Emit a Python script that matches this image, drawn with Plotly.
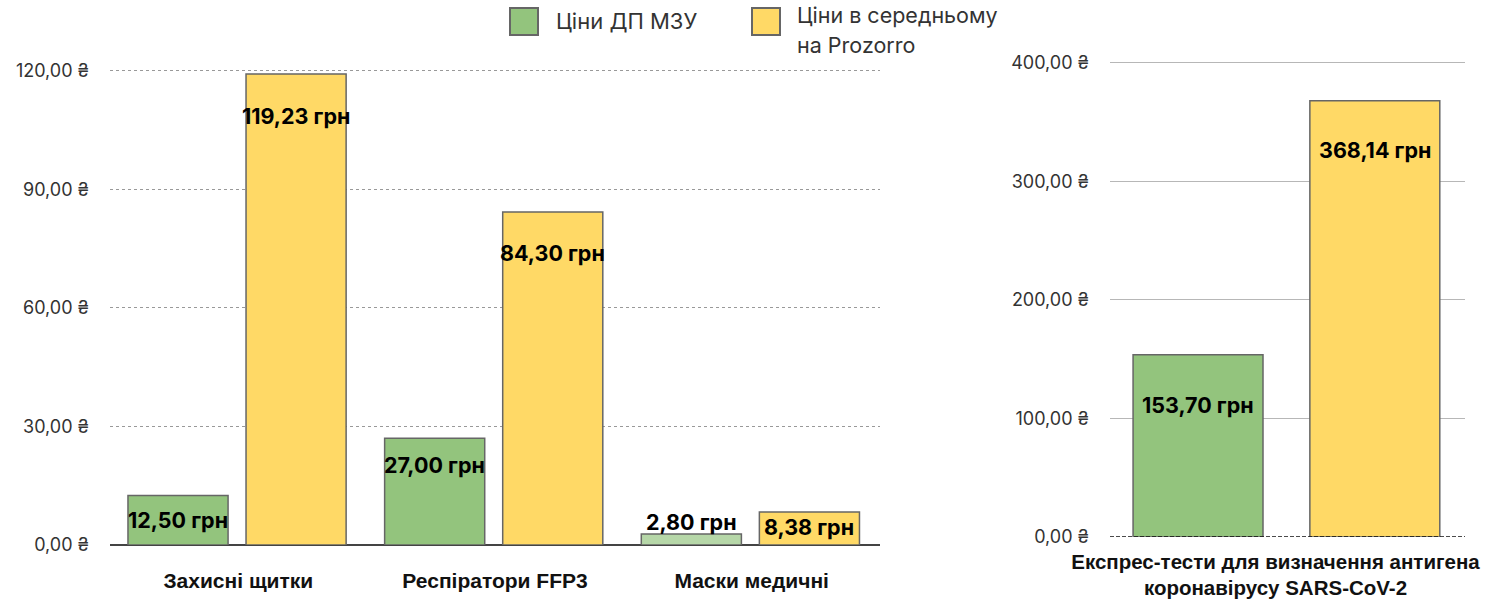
import plotly.graph_objects as go

# ---- data ----
left_categories = ["Захисні щитки", "Респіратори FFP3", "Маски медичні"]
mzu_prices = [12.50, 27.00, 2.80]
prozorro_prices = [119.23, 84.30, 8.38]

right_categories = ["Експрес-тести для визначення антигена<br>коронавірусу SARS-CoV-2"]
mzu_tests = [153.70]
prozorro_tests = [368.14]

left_tickvals = [0, 30, 60, 90, 120]
left_ticktext = ["0,00 ₴", "30,00 ₴", "60,00 ₴", "90,00 ₴", "120,00 ₴"]
right_tickvals = [0, 100, 200, 300, 400]
right_ticktext = ["0,00 ₴", "100,00 ₴", "200,00 ₴", "300,00 ₴", "400,00 ₴"]

legend_names = ["Ціни ДП МЗУ", "Ціни в середньому<br>на Prozorro"]

# ---- styles ----
GREEN = "#93c47d"
LIGHT_GREEN = "#b6d7a8"
YELLOW = "#ffd966"
BORDER = "#666666"
mzu_colors = [GREEN, GREEN, LIGHT_GREEN]
left_label_shift = {"mzu": [-24, -27, 12], "pz": [-42, -41, -15]}
right_label_shift = {"mzu": [-50], "pz": [-49]}

W, H = 1493, 605
def fx(px): return px / W
def fy(py): return 1 - py / H

L_W, L_G_OFF, L_Y_OFF = 0.39, -0.43, 0.03
R_W, R_G_OFF, R_Y_OFF = 0.366, -0.435, 0.063

fig = go.Figure()
line = dict(color=BORDER, width=1.5)

fig.add_trace(go.Bar(x=left_categories, y=mzu_prices, marker=dict(color=mzu_colors, line=line),
                     width=L_W, offset=L_G_OFF, xaxis="x", yaxis="y", showlegend=False, hoverinfo="skip"))
fig.add_trace(go.Bar(x=left_categories, y=prozorro_prices, marker=dict(color=YELLOW, line=line),
                     width=L_W, offset=L_Y_OFF, xaxis="x", yaxis="y", showlegend=False, hoverinfo="skip"))
fig.add_trace(go.Bar(x=right_categories, y=mzu_tests, marker=dict(color=GREEN, line=line),
                     width=R_W, offset=R_G_OFF, xaxis="x2", yaxis="y2", showlegend=False, hoverinfo="skip"))
fig.add_trace(go.Bar(x=right_categories, y=prozorro_tests, marker=dict(color=YELLOW, line=line),
                     width=R_W, offset=R_Y_OFF, xaxis="x2", yaxis="y2", showlegend=False, hoverinfo="skip"))

def fmt(v):
    return f"{v:.2f}".replace(".", ",") + " грн"

label_font = dict(family="Inter, Montserrat, sans-serif", size=21.5, color="#000000")
annotations = []
for i, v in enumerate(mzu_prices):
    annotations.append(dict(x=i + L_G_OFF + L_W / 2, y=v, xref="x", yref="y", text="<b>" + fmt(v) + "</b>",
                            showarrow=False, yanchor="middle", yshift=left_label_shift["mzu"][i], font=label_font))
for i, v in enumerate(prozorro_prices):
    annotations.append(dict(x=i + L_Y_OFF + L_W / 2, y=v, xref="x", yref="y", text="<b>" + fmt(v) + "</b>",
                            showarrow=False, yanchor="middle", yshift=left_label_shift["pz"][i], font=label_font))
for i, v in enumerate(mzu_tests):
    annotations.append(dict(x=i + R_G_OFF + R_W / 2, y=v, xref="x2", yref="y2", text="<b>" + fmt(v) + "</b>",
                            showarrow=False, yanchor="middle", yshift=right_label_shift["mzu"][i], font=label_font))
for i, v in enumerate(prozorro_tests):
    annotations.append(dict(x=i + R_Y_OFF + R_W / 2, y=v, xref="x2", yref="y2", text="<b>" + fmt(v) + "</b>",
                            showarrow=False, yanchor="middle", yshift=right_label_shift["pz"][i], font=label_font))

# legend drawn manually
legend_font = dict(family="Inter, Montserrat, sans-serif", size=22, color="#333333")
legend_font2 = dict(family="Inter, Montserrat, sans-serif", size=21.5, color="#333333")
shapes = [
    dict(type="rect", xref="paper", yref="paper", x0=fx(510), x1=fx(538), y0=fy(35), y1=fy(8),
         fillcolor=GREEN, line=dict(color=BORDER, width=2)),
    dict(type="rect", xref="paper", yref="paper", x0=fx(752), x1=fx(780), y0=fy(35), y1=fy(8),
         fillcolor=YELLOW, line=dict(color=BORDER, width=2)),
]
annotations.append(dict(x=fx(554), y=fy(21), xref="paper", yref="paper", text=legend_names[0], showarrow=False,
                        xanchor="left", yanchor="middle", font=legend_font))
for k, part in enumerate(legend_names[1].split("<br>")):
    annotations.append(dict(x=fx(795), y=fy(15 + 30 * k), xref="paper", yref="paper", text=part,
                            showarrow=False, xanchor="left", yanchor="middle", align="left", font=legend_font2))

tick_font = dict(family="Inter, Montserrat, sans-serif", size=18, color="#333333")
cat_font = dict(family="Liberation Sans, Arial, sans-serif", size=21, color="#111111")
cat_font_r = dict(family="Liberation Sans, Arial, sans-serif", size=20.5, color="#111111")

fig.update_layout(
    autosize=True, margin=dict(l=0, r=0, t=0, b=0, autoexpand=False),
    plot_bgcolor="white", paper_bgcolor="white",
    barmode="overlay",
    annotations=annotations, shapes=shapes,
    xaxis=dict(domain=[fx(110), fx(880)], anchor="y", showgrid=False, showline=False, zeroline=False,
               tickfont=cat_font, ticks="", ticklabelstandoff=21, tickprefix="<b>", ticksuffix="</b>",
               range=[-0.5, 2.5], automargin=False),
    yaxis=dict(domain=[fy(545), fy(67)], anchor="x", range=[0, 121], tickvals=left_tickvals,
               ticktext=left_ticktext, tickfont=tick_font, showgrid=True, gridcolor="#999999",
               griddash="dot", gridwidth=1, zeroline=True, zerolinecolor="#444444", zerolinewidth=2,
               ticks="", ticklabelstandoff=20, showline=False, automargin=False),
    xaxis2=dict(domain=[fx(1110), fx(1465)], anchor="y2", showgrid=False, showline=False, zeroline=False,
                tickfont=cat_font_r, ticks="", ticklabelstandoff=10, ticklabelshift=-12,
                tickprefix="<b>", ticksuffix="</b>", range=[-0.5, 0.5], automargin=False),
    yaxis2=dict(domain=[fy(537), fy(57)], anchor="x2", range=[0, 405], tickvals=right_tickvals,
                ticktext=right_ticktext, tickfont=tick_font, showgrid=True, gridcolor="#b7b7b7",
                gridwidth=1, zeroline=False, ticks="", ticklabelstandoff=20, showline=False, automargin=False),
)

# dashed zero line on right chart
fig.add_shape(type="line", xref="x2 domain", yref="y2", x0=0, x1=1, y0=0, y1=0,
              line=dict(color="#111111", width=1.5, dash="4px,2px"))

post = ("document.body.style.margin='0';document.body.style.padding='0';"
        "document.documentElement.style.overflow='hidden';"
        "var gd=document.getElementById('{plot_id}');gd.style.width='100vw';gd.style.height='100vh';"
        "Plotly.Plots.resize(gd);")
fig.write_html("out.html", default_width="100vw", default_height="100vh", post_script=post,
               config={"displayModeBar": False})
